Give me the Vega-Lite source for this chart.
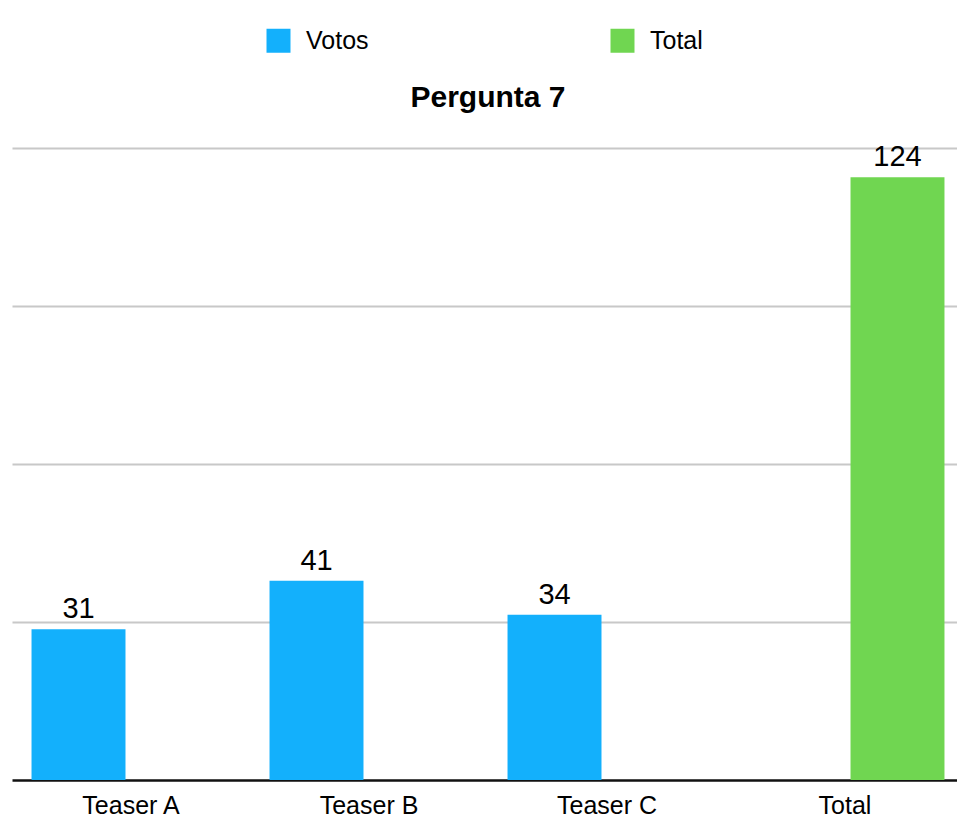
{
  "$schema": "https://vega.github.io/schema/vega-lite/v6.json",
  "width": 952,
  "height": 632,
  "autosize": {"type": "none"},
  "padding": {"left": 12, "top": 148, "right": 0, "bottom": 39},
  "background": "white",
  "title": {
    "text": "Pergunta 7",
    "font": "Liberation Sans",
    "fontSize": 30,
    "fontWeight": "bold",
    "color": "black",
    "anchor": "middle",
    "baseline": "alphabetic",
    "offset": 0,
    "dy": 109
  },
  "config": {
    "view": {"stroke": null},
    "font": "Liberation Sans"
  },
  "data": {
    "values": [
      {"categoria": "Teaser A", "serie": "Votos", "valor": 31},
      {"categoria": "Teaser B", "serie": "Votos", "valor": 41},
      {"categoria": "Teaser C", "serie": "Votos", "valor": 34},
      {"categoria": "Total", "serie": "Total", "valor": 124}
    ]
  },
  "encoding": {
    "x": {
      "field": "categoria",
      "type": "nominal",
      "sort": ["Teaser A", "Teaser B", "Teaser C", "Total"],
      "scale": {"paddingInner": 0, "paddingOuter": 0},
      "axis": {
        "title": null,
        "labelAngle": 0,
        "labelFont": "Liberation Sans",
        "labelFontSize": 25,
        "labelColor": "black",
        "labelPadding": 13,
        "ticks": false,
        "domainColor": "#111111",
        "domainWidth": 2.5,
        "grid": false
      }
    },
    "xOffset": {
      "field": "serie",
      "type": "nominal",
      "scale": {"domain": ["Votos", "Total"], "paddingInner": 0.105, "paddingOuter": 0.186}
    },
    "y": {
      "field": "valor",
      "type": "quantitative",
      "scale": {"domain": [0, 130], "nice": false},
      "axis": {
        "title": null,
        "labels": false,
        "ticks": false,
        "domain": false,
        "values": [32.5, 65, 97.5, 130],
        "grid": true,
        "gridColor": "#c8c8c8",
        "gridWidth": 2
      }
    }
  },
  "layer": [
    {
      "mark": {"type": "bar"},
      "encoding": {
        "color": {
          "field": "serie",
          "type": "nominal",
          "scale": {"domain": ["Votos", "Total"], "range": ["#13b0fc", "#70d651"]},
          "legend": {
            "title": null,
            "orient": "none",
            "direction": "horizontal",
            "legendX": 254,
            "legendY": -120,
            "symbolType": "square",
            "symbolSize": 576,
            "symbolStrokeWidth": 0,
            "labelFont": "Liberation Sans",
            "labelFontSize": 25,
            "labelColor": "black",
            "labelOffset": 15,
            "columnPadding": 241
          }
        }
      }
    },
    {
      "mark": {"type": "text", "baseline": "alphabetic", "dy": -11, "font": "Liberation Sans", "fontSize": 29, "color": "black"},
      "encoding": {
        "text": {"field": "valor", "type": "quantitative"}
      }
    }
  ]
}
